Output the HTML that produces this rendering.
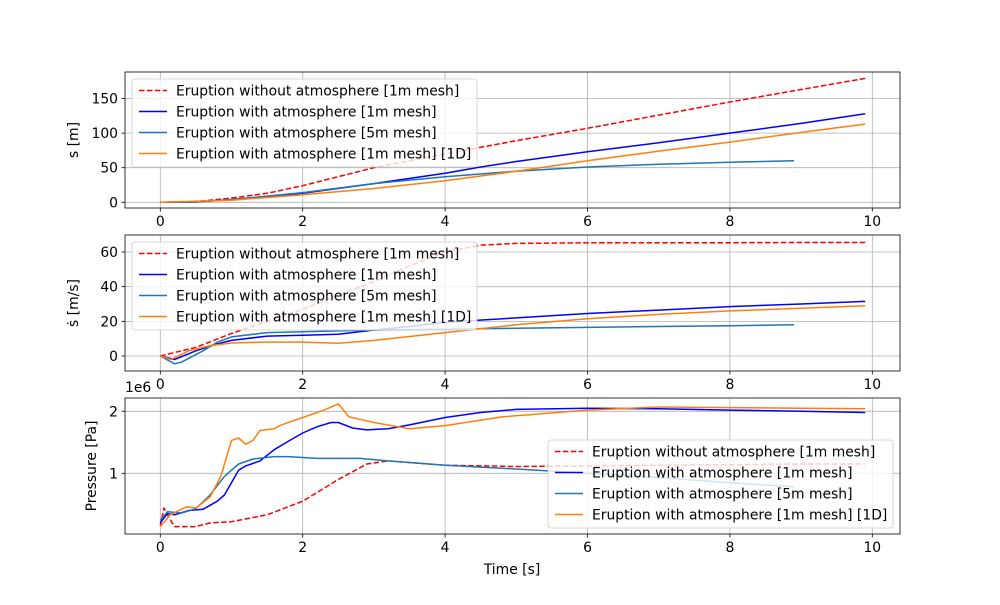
<!DOCTYPE html>
<html><head><meta charset="utf-8"><style>
body{margin:0;background:#fff}
svg text{font-family:"DejaVu Sans","Liberation Sans",sans-serif;font-size:13.9px;fill:#000}
</style></head><body>
<svg id="fig" width="1000" height="600" xmlns="http://www.w3.org/2000/svg"></svg>
<script>
// ---- data ----
const legendLabels = ["Eruption without atmosphere [1m mesh]","Eruption with atmosphere [1m mesh]","Eruption with atmosphere [5m mesh]","Eruption with atmosphere [1m mesh] [1D]"];
const xTicks = [0,2,4,6,8,10];
const sTicks = [0,50,100,150];
const vTicks = [0,20,40,60];
const pTicks = [1,2];
// s [m]
const sRedT = [0,0.5,1,1.5,2,2.5,3,4,5,6,7,8,9,9.9];
const sRedV = [0,1,6,13,24,37,50,70,89,107,126,145,163,179];
const sBlueT = [0,0.5,1,2,3,4,4.5,5,6,7,8,9,9.9];
const sBlueV = [0,0.5,4,13,27,42,51,59,73,86,100,114,128];
const s5mT = [0,0.5,1,2,3,4,5,6,7,8,8.9];
const s5mV = [0,0.5,4,14,27,37,45,51,55,58,60];
const s1DT = [0,1,2,3,4,5,6,7,8,9,9.9];
const s1DV = [0,3,11,20,31,45,60,74,87,101,113];
// sdot [m/s]
const vRedT = [0,0.5,1,1.5,2,2.5,3,3.5,4,4.5,5,6,7,8,9,9.9];
const vRedV = [0,5,13,20,27,35,43,52,60,64,65,65.3,65.4,65.4,65.5,65.5];
const vBlueT = [0,0.2,0.5,0.8,1,1.5,2,2.5,3,3.5,4,5,6,7,8,9,9.9];
const vBlueV = [0,-2,3,7,9,11.5,12,12.5,15,17,19.5,22,24.5,26.5,28.5,30,31.5];
const v5mT = [0,0.2,0.3,0.6,0.8,1,1.5,2,3,4,5,6,7,8,8.9];
const v5mV = [0,-4.5,-3.5,3,8,11,13.5,14,15,15.5,16,16.5,17,17.5,18];
const v1DT = [0,0.15,0.4,0.7,1,1.5,2,2.5,2.7,3,4,5,6,7,8,9,9.9];
const v1DV = [0,-2,3,6,7.5,8,8,7.3,8,9,13.5,18,21.5,24,26,27.5,29];
// pressure [1e6 Pa]
const pRedT = [0,0.05,0.1,0.2,0.5,0.7,1,1.5,2,2.5,2.9,3.2,4,5,6,7,8,9,9.9];
const pRedV = [0.15,0.44,0.33,0.14,0.14,0.2,0.22,0.33,0.55,0.9,1.15,1.2,1.13,1.11,1.12,1.13,1.14,1.15,1.15];
const pBlueT = [0,0.1,0.2,0.4,0.6,0.8,0.9,1,1.1,1.2,1.4,1.6,1.8,2,2.2,2.4,2.5,2.7,2.9,3.2,3.5,4,4.5,5,6,7,8,9,9.9];
const pBlueV = [0.2,0.35,0.33,0.4,0.42,0.55,0.65,0.85,1.05,1.12,1.2,1.38,1.52,1.65,1.75,1.82,1.82,1.73,1.7,1.72,1.78,1.9,1.98,2.03,2.05,2.04,2.02,2.0,1.98];
const p5mT = [0,0.1,0.3,0.5,0.7,0.9,1.1,1.3,1.6,1.8,2.2,2.8,3.2,4,5,6,7,8,8.9];
const p5mV = [0.24,0.38,0.36,0.43,0.65,0.95,1.15,1.23,1.27,1.27,1.24,1.24,1.2,1.13,1.07,1.0,0.93,0.85,0.78];
const p1DT = [0,0.14,0.28,0.37,0.5,0.7,0.85,1.0,1.1,1.2,1.3,1.4,1.6,1.7,2,2.3,2.5,2.65,3,3.5,4,4.8,6,7,8,9,9.9];
const p1DV = [0.14,0.33,0.41,0.46,0.44,0.62,0.95,1.53,1.57,1.47,1.53,1.69,1.72,1.78,1.9,2.02,2.12,1.91,1.82,1.72,1.77,1.91,2.02,2.07,2.06,2.05,2.04];

const NS="http://www.w3.org/2000/svg";
const svg=document.getElementById('fig');
function mk(tag,attrs,parent){const e=document.createElementNS(NS,tag);for(const k in attrs)e.setAttribute(k,attrs[k]);(parent||svg).appendChild(e);return e;}
const L=125,R=900;
const xs=t=>160.3+t*71.2;
const colors=["#ff0000","#0000ff","#1f77b4","#ff7f0e"];
const panels=[
 {name:'position',top:72,bot:208,y0:202.3,k:0.692,ticks:sTicks,fmt:v=>String(v),series:[[sRedT,sRedV],[sBlueT,sBlueV],[s5mT,s5mV],[s1DT,s1DV]],ylabel:'s [m]',ylx:78,leg:[132,79]},
 {name:'velocity',top:235,bot:371,y0:356,k:1.733,ticks:vTicks,fmt:v=>String(v),series:[[vRedT,vRedV],[vBlueT,vBlueV],[v5mT,v5mV],[v1DT,v1DV]],ylabel:'ṡ [m/s]',ylx:78,leg:[132,242]},
 {name:'pressure',top:398,bot:534,y0:535.3,k:62,ticks:pTicks,fmt:v=>String(v),series:[[pRedT,pRedV],[pBlueT,pBlueV],[p5mT,p5mV],[p1DT,p1DV]],ylabel:'Pressure [Pa]',ylx:96,leg:[548,440]}
];
panels.forEach((p,pi)=>{
 const g=mk('g',{});
 
 
 const ys=v=>p.y0-v*p.k;
 // grid
 xTicks.forEach(t=>{const x=xs(t);const l=mk('line',{x1:x,x2:x,y1:p.top,y2:p.bot,stroke:'#b0b0b0','stroke-width':0.8},g);
  
  mk('line',{x1:x,x2:x,y1:p.bot,y2:p.bot+3.5,stroke:'#000','stroke-width':0.8},g);
  const tx=mk('text',{x:x,y:p.bot+18,'text-anchor':'middle'},g);tx.textContent=t;
  });
 p.ticks.forEach(v=>{const y=ys(v);const l=mk('line',{x1:L,x2:R,y1:y,y2:y,stroke:'#b0b0b0','stroke-width':0.8},g);
  
  mk('line',{x1:L-3.5,x2:L,y1:y,y2:y,stroke:'#000','stroke-width':0.8},g);
  const tx=mk('text',{x:L-7,y:y+5,'text-anchor':'end'},g);tx.textContent=p.fmt(v);
  });
 const cp=mk('clipPath',{id:'c'+pi},g);mk('rect',{x:L,y:p.top,width:R-L,height:p.bot-p.top},cp);
 p.series.forEach((s,si)=>{
  const d=s[0].map((t,i)=>(i?'L':'M')+xs(t).toFixed(1)+','+ys(s[1][i]).toFixed(1)).join('');
  const a={d:d,fill:'none',stroke:colors[si],'stroke-width':1.5,'clip-path':'url(#c'+pi+')','stroke-linejoin':'round'};
  if(si===0)a['stroke-dasharray']='5.5,2.4';
  const path=mk('path',a,g);
  
  
 });
 const fr=mk('rect',{x:L,y:p.top,width:R-L,height:p.bot-p.top,fill:'none',stroke:'#000','stroke-width':0.8},g);
 
 const yl=mk('text',{x:0,y:0,'text-anchor':'middle',transform:`translate(${p.ylx},${(p.top+p.bot)/2}) rotate(-90)`},g);
 yl.textContent=p.ylabel;
 // legend
 const lg=mk('g',{},g);
 const [lx,ly]=p.leg;
 mk('rect',{x:lx,y:ly,width:345,height:88,rx:3,fill:'#fff','fill-opacity':0.8,stroke:'#cccccc','stroke-width':0.8},lg);
 legendLabels.forEach((lab,i)=>{const y=ly+11.5+i*21;
  const la={x1:lx+7,x2:lx+35,y1:y,y2:y,stroke:colors[i],'stroke-width':1.5};if(i===0)la['stroke-dasharray']='5.5,2.4';
  mk('line',la,lg);
  const t=mk('text',{x:lx+44,y:y+5},lg);t.textContent=lab;
  });
});
const off=mk('text',{x:125,y:392});off.textContent='1e6';

const xt=mk('text',{x:512,y:574,'text-anchor':'middle'});xt.textContent='Time [s]';

</script>
</body></html>
